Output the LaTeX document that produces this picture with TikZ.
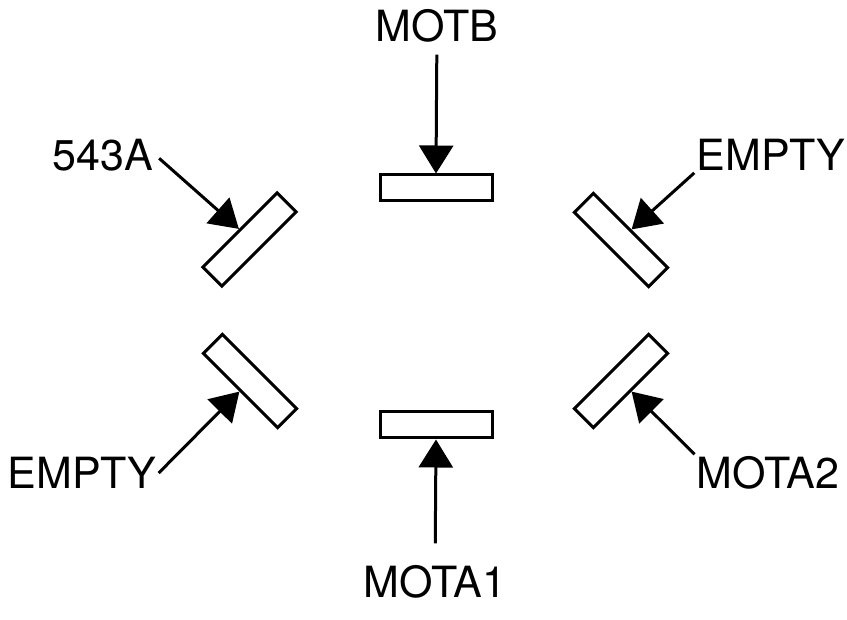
\documentclass[tikz,border=0pt]{standalone}
\usepackage{fontspec}
\setmainfont{TeX Gyre Heros}
\usetikzlibrary{arrows.meta}
\tikzset{slot/.style={rectangle,draw,line width=3pt,minimum width=112pt,minimum height=26pt,inner sep=0pt},
  tilted/.style={slot,minimum width=105pt,minimum height=27pt},
  lbl/.style={inner sep=2pt,font=\fontsize{43}{50}\selectfont},
  line/.style={line width=3pt,-{Triangle[length=28pt,width=34pt]}}}

\begin{document}
\begin{tikzpicture}[x=1pt,y=-1pt]
\useasboundingbox (0,0) rectangle (847,620);
% slots
\node[slot] (top) at (436,188) {};
\node[slot, rotate=180] (bot) at (436,425) {};
\node[tilted, rotate=45] (ul) at (249.5,239.5) {};
\node[tilted, rotate=-45] (ur) at (621,240) {};
\node[tilted, rotate=135] (ll) at (250,381) {};
\node[tilted, rotate=-135] (lr) at (621,381) {};
% labels
\node[lbl] (motb) at (437,26) {MOTB};
\node[lbl] (l543) at (103,155) {543A};
\node[lbl] (emptyr) at (771,155) {EMPTY};
\node[lbl] (emptyl) at (82,473) {EMPTY};
\node[lbl] (mota2) at (768,473) {MOTA2};
\node[lbl] (mota1) at (435,582) {MOTA1};
% arrows
\draw[line, shorten <=10pt] (motb) -- (top.north);
\draw[line, shorten <=5pt] (l543.east) -- (ul.north);
\draw[line] (emptyr.south west) -- (ur.north);
\draw[line] (emptyl.east) -- (ll.north);
\draw[line] (mota2.north west) -- (lr.north);
\draw[line, shorten <=20pt] (mota1) -- (bot.north);
\end{tikzpicture}
\end{document}
